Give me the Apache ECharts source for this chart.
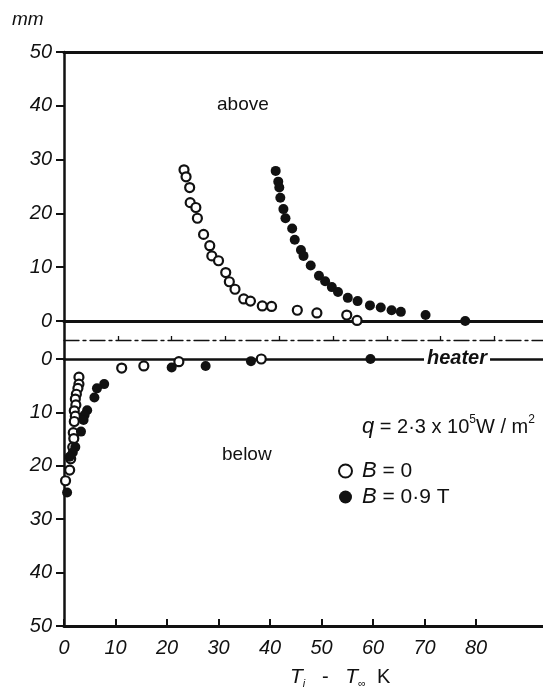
<!DOCTYPE html>
<html>
<head>
<meta charset="utf-8">
<script src="https://cdn.jsdelivr.net/npm/echarts@6.0.0/dist/echarts.min.js"></script>
<style>
html,body{margin:0;padding:0;background:#fff;}
#chart{width:543px;height:696px;}
</style>
</head>
<body>
<div id="chart"></div>
<script>
// Bubble departure distance (mm) above and below the heater vs. superheat T_i - T_inf (K)

// above the heater, B = 0 (open circles)
const aboveOpen = [
  [23.3,28.1],[23.7,26.8],[24.4,24.8],[24.5,22.0],[25.6,21.1],[25.9,19.1],
  [27.1,16.1],[28.3,14.0],[28.7,12.1],[30.0,11.2],[31.4,9.0],[32.1,7.3],
  [33.2,5.9],[34.9,4.1],[36.2,3.7],[38.5,2.8],[40.3,2.7],[45.3,2.0],
  [49.1,1.5],[54.9,1.1],[56.9,0.1]
];
// above the heater, B = 0.9 T (filled circles)
const aboveFilled = [
  [41.1,27.9],[41.6,25.9],[41.8,24.8],[42.0,22.9],[42.6,20.8],[43.0,19.1],
  [44.3,17.2],[44.8,15.1],[46.0,13.2],[46.5,12.1],[47.9,10.3],[49.5,8.4],
  [50.7,7.4],[52.0,6.3],[53.2,5.4],[55.1,4.3],[57.0,3.7],[59.4,2.9],
  [61.5,2.5],[63.6,2.0],[65.4,1.7],[70.2,1.1],[77.9,0.0]
];
// below the heater, B = 0
const belowOpen = [
  [11.2,1.7],[15.5,1.3],[22.3,0.5],[38.3,0.0],
  [2.9,3.4],[2.9,4.7],[2.7,5.5],[2.4,6.6],[2.2,7.5],[2.3,8.6],[2.0,9.7],
  [2.2,10.7],[2.0,11.7],[1.8,13.8],[1.9,14.9],[1.7,16.5],[1.3,18.7],
  [1.1,20.8],[0.3,22.8]
];
// below the heater, B = 0.9 T
const belowFilled = [
  [20.9,1.6],[27.5,1.3],[36.3,0.4],[59.5,0.0],
  [7.8,4.7],[6.4,5.5],[5.9,7.2],[4.5,9.6],[4.0,10.5],[3.8,11.4],[3.3,13.6],
  [2.2,16.5],[1.7,17.5],[1.1,18.3],[0.6,25.0]
];

const xRange = [0, 93];
const yRange = [0, 50];
const yStep = 10;
const xTickValues = [0, 10, 20, 30, 40, 50, 60, 70, 80];
const refTickValues = [10, 20, 30, 40, 50, 60, 70, 80];
const legendNames = ['B = 0', 'B = 0.9 T'];

const FONT = 'Liberation Sans';
const INK = '#111';

const chart = echarts.init(document.getElementById('chart'), null, {renderer: 'canvas'});

const tickLabel = {
  show: true, fontFamily: FONT, fontStyle: 'italic', fontSize: 20, color: INK, margin: 12
};
const heavyLine = w => ({show: true, onZero: false, lineStyle: {color: INK, width: w}});

const openStyle = {color: '#fff', borderColor: INK, borderWidth: 2.2, opacity: 1};
const filledStyle = {color: INK, borderColor: INK, borderWidth: 0, opacity: 1};

const option = {
  animation: false,
  backgroundColor: '#fff',
  grid: [
    {left: 64, top: 52, width: 482, height: 269},   // above
    {left: 64, top: 321, width: 482, height: 38},   // gap with dash-dot reference line
    {left: 64, top: 359, width: 482, height: 267}   // below
  ],
  xAxis: [
    {gridIndex: 0, type: 'value', min: xRange[0], max: xRange[1], position: 'bottom',
     axisLine: heavyLine(3), axisTick: {show: false}, axisLabel: {show: false}, splitLine: {show: false}},
    {gridIndex: 0, type: 'value', min: xRange[0], max: xRange[1], position: 'top',
     axisLine: heavyLine(3), axisTick: {show: false}, axisLabel: {show: false}, splitLine: {show: false}},
    {gridIndex: 1, type: 'value', min: 0, max: 89,
     axisLine: {show: true, onZero: true, lineStyle: {color: INK, width: 1.3, type: [15, 4, 3, 4]}},
     axisTick: {show: true, inside: true, length: 4, customValues: refTickValues,
                lineStyle: {color: INK, width: 1.3}},
     axisLabel: {show: false}, splitLine: {show: false}},
    {gridIndex: 2, type: 'value', min: xRange[0], max: xRange[1], position: 'top',
     axisLine: heavyLine(2.5), axisTick: {show: false}, axisLabel: {show: false}, splitLine: {show: false}},
    {gridIndex: 2, type: 'value', min: xRange[0], max: xRange[1], position: 'bottom',
     axisLine: heavyLine(3),
     axisTick: {show: true, inside: true, length: 7, customValues: xTickValues,
                lineStyle: {color: INK, width: 2}},
     axisLabel: Object.assign({}, tickLabel, {customValues: xTickValues}),
     splitLine: {show: false}}
  ],
  yAxis: [
    {gridIndex: 0, type: 'value', min: yRange[0], max: yRange[1], interval: yStep,
     axisLine: heavyLine(2.5),
     axisTick: {show: true, length: 8, lineStyle: {color: INK, width: 2}},
     axisLabel: tickLabel, splitLine: {show: false}},
    {gridIndex: 1, type: 'value', min: -1, max: 1,
     axisLine: heavyLine(2.5), axisTick: {show: false}, axisLabel: {show: false}, splitLine: {show: false}},
    {gridIndex: 2, type: 'value', min: yRange[0], max: yRange[1], interval: yStep, inverse: true,
     axisLine: heavyLine(2.5),
     axisTick: {show: true, length: 8, lineStyle: {color: INK, width: 2}},
     axisLabel: tickLabel, splitLine: {show: false}}
  ],
  legend: {
    orient: 'vertical',
    left: 333, top: 455,
    itemWidth: 13, itemHeight: 13, itemGap: 4,
    icon: 'circle',
    selectedMode: false,
    data: legendNames,
    formatter: name => name === legendNames[0] ? '{b|B} = 0' : '{b|B} = 0·9 T',
    textStyle: {
      fontFamily: FONT, fontSize: 21, color: INK, padding: [0, 0, 0, 5],
      rich: {b: {fontFamily: FONT, fontSize: 22, fontStyle: 'italic', color: INK}}
    }
  },
  series: [
    {name: legendNames[0], type: 'scatter', xAxisIndex: 0, yAxisIndex: 0, data: aboveOpen,
     symbol: 'circle', symbolSize: 9, itemStyle: openStyle, clip: false},
    {name: legendNames[1], type: 'scatter', xAxisIndex: 0, yAxisIndex: 0, data: aboveFilled,
     symbol: 'circle', symbolSize: 10, itemStyle: filledStyle, clip: false},
    {name: legendNames[0], type: 'scatter', xAxisIndex: 4, yAxisIndex: 2, data: belowOpen,
     symbol: 'circle', symbolSize: 9, itemStyle: openStyle, clip: false},
    {name: legendNames[1], type: 'scatter', xAxisIndex: 4, yAxisIndex: 2, data: belowFilled,
     symbol: 'circle', symbolSize: 10, itemStyle: filledStyle, clip: false}
  ],
  graphic: [
    {type: 'text', left: 12, top: 10,
     style: {text: 'mm', fontFamily: FONT, fontStyle: 'italic', fontSize: 19, fill: INK}},
    {type: 'text', left: 217, top: 95,
     style: {text: 'above', fontFamily: FONT, fontSize: 19, fill: INK}},
    {type: 'text', left: 222, top: 445,
     style: {text: 'below', fontFamily: FONT, fontSize: 19, fill: INK}},
    {type: 'text', left: 424, top: 348, z: 10,
     style: {text: 'heater', fontFamily: FONT, fontStyle: 'italic', fontWeight: 'bold', fontSize: 20,
             fill: INK, backgroundColor: '#fff', padding: [0, 3, 0, 3]}},
    {type: 'text', left: 362, top: 414,
     style: {
       text: '{q|q} = 2·3 x 10{s|5}W / m{s|2}',
       fontFamily: FONT, fontSize: 20, fill: INK,
       rich: {
         q: {fontFamily: FONT, fontSize: 22, fontStyle: 'italic', fill: INK, lineHeight: 26},
         s: {fontFamily: FONT, fontSize: 12, fill: INK, verticalAlign: 'top', lineHeight: 26}
       }
     }},
    {type: 'text', left: 290, top: 667,
     style: {
       text: '{t|T}{s|i}   -   {t|T}{s|∞}  K',
       fontFamily: FONT, fontSize: 20, fill: INK,
       rich: {
         t: {fontFamily: FONT, fontSize: 21, fontStyle: 'italic', fill: INK, lineHeight: 24},
         s: {fontFamily: FONT, fontSize: 11, fontStyle: 'italic', fill: INK, verticalAlign: 'bottom', lineHeight: 20}
       }
     }}
  ]
};

chart.setOption(option);
</script>
</body>
</html>
